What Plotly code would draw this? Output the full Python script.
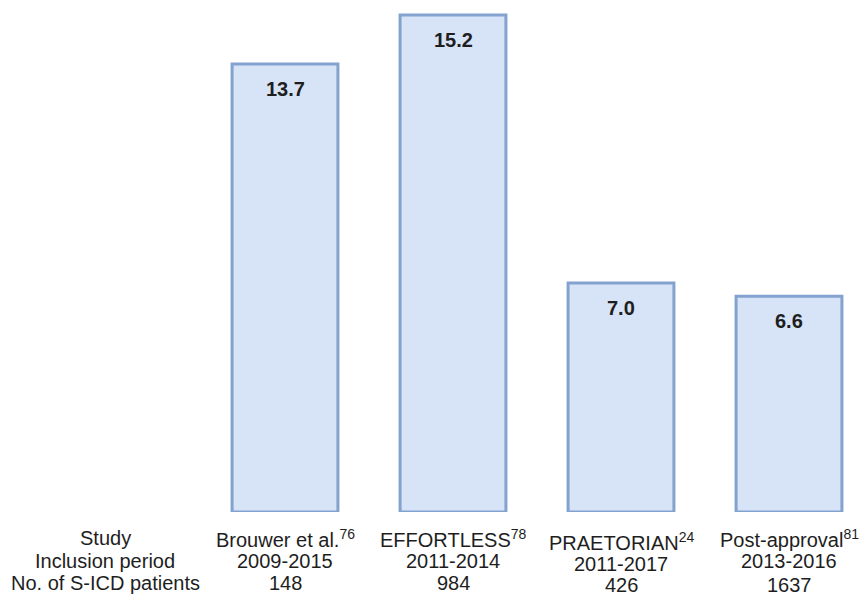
import plotly.graph_objects as go

studies = ["Brouwer et al.<sup>76</sup>", "EFFORTLESS<sup>78</sup>", "PRAETORIAN<sup>24</sup>", "Post-approval<sup>81</sup>"]
periods = ["2009-2015", "2011-2014", "2011-2017", "2013-2016"]
patients = ["148", "984", "426", "1637"]
values = [13.7, 15.2, 7.0, 6.6]
row_labels = ["Study", "Inclusion period", "No. of S-ICD patients"]

W, H = 868, 597
B = 85
plot_h = H - B
x_pos = list(range(len(values)))

FONT = "Liberation Sans, Arial, Helvetica, sans-serif"
TXT = "#1e1e1e"

fig = go.Figure(go.Bar(
    x=x_pos, y=values, width=0.63,
    marker=dict(color="#d7e4f7", line=dict(color="#84a2cf", width=3)),
    hoverinfo="skip",
))

ann = []
for xi, v in zip(x_pos, values):
    ann.append(dict(x=xi, y=v, xref="x", yref="y", text="<b>%.1f</b>" % v,
                    showarrow=False, yanchor="middle", yshift=-25,
                    font=dict(family=FONT, size=20, color=TXT)))

def py(ypx):
    return (plot_h - ypx) / plot_h

row_y = [538, 561, 583]
for lab, yy in zip(row_labels, row_y):
    ann.append(dict(x=105 / W, y=py(yy), xref="paper", yref="paper", text=lab,
                    showarrow=False, xanchor="center", yanchor="middle",
                    font=dict(family=FONT, size=20, color=TXT)))

col_offsets = [[0, 0, 0], [0, 0, 0], [3, 3, 2], [0, 0, 2]]
for i in x_pos:
    for j, txt in enumerate([studies[i], periods[i], patients[i]]):
        ann.append(dict(x=i, y=py(row_y[j] + col_offsets[i][j]), xref="x", yref="paper",
                        text=txt, showarrow=False, xanchor="center", yanchor="middle",
                        font=dict(family=FONT, size=20, color=TXT)))

fig.update_layout(
    width=W, height=H,
    margin=dict(l=0, r=0, t=0, b=B),
    paper_bgcolor="white", plot_bgcolor="white",
    showlegend=False,
    xaxis=dict(range=[-285 / 168, (W - 285) / 168], visible=False, fixedrange=True),
    yaxis=dict(range=[0, plot_h / 32.7], visible=False, fixedrange=True),
    annotations=ann,
)

fig.write_html("out.html")
